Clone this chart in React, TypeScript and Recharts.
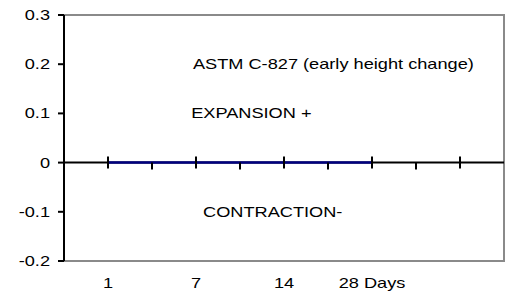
import React from 'react';
import { ComposedChart, Line, Scatter, XAxis, YAxis, ReferenceLine } from 'recharts';

// days on the category axis (slot positions) and their labels
const dayPos = [1, 3, 5, 7];
const dayLabels = ['1', '7', '14', '28 Days'];
const heightChange = [0, 0, 0, 0];

const yTicks = [-0.2, -0.1, 0, 0.1, 0.2, 0.3];
const tickPos = [1, 2, 3, 4, 5, 6, 7, 8, 9];
const majorPos = [1, 3, 5, 7, 9];

const noteText = ['ASTM C-827 (early height change)', 'EXPANSION +', 'CONTRACTION-'];
const noteX = [2.93, 2.89, 3.16];
const noteY = [0.2, 0.1, -0.1];

// corners of the plot frame (open on the left, where the y axis is)
const frameX = [0, 10, 10, 0];
const frameY = [0.3, 0.3, -0.2, -0.2];
const axisX = [0, 0];
const axisY = [0.3, -0.2];

const FONT = '"Liberation Sans", Arial, sans-serif';
const SX = 1.3; // the original text is drawn wide

const lineData = dayPos.map((x, i) => ({ x, y: heightChange[i] }));
const tickData = tickPos.map(x => ({ x, y: 0, major: majorPos.includes(x) }));
const noteData = noteText.map((t, i) => ({ x: noteX[i], y: noteY[i], text: t }));
const frameData = frameX.map((x, i) => ({ x, y: frameY[i] }));
const axisData = axisX.map((x, i) => ({ x, y: axisY[i] }));

function WideText({ x, y, anchor, children }: any) {
  return (
    <text
      transform={`translate(${x},${y}) scale(${SX},1)`}
      textAnchor={anchor}
      fontFamily={FONT}
      fontSize={14}
      fill="#000"
    >
      {children}
    </text>
  );
}

const YTick = (p: any) => (
  <WideText x={p.x} y={p.y + 5} anchor="end">{String(p.payload.value)}</WideText>
);

const XTick = (p: any) => {
  const i = dayPos.indexOf(p.payload.value);
  return <WideText x={p.x} y={p.y + 5} anchor="middle">{dayLabels[i]}</WideText>;
};

const TickMark = (p: any) => {
  const { cx, cy, payload } = p;
  return payload.major
    ? <line x1={cx} x2={cx} y1={cy - 6} y2={cy + 6} stroke="#000" strokeWidth={2} />
    : <line x1={cx} x2={cx} y1={cy} y2={cy + 7} stroke="#000" strokeWidth={2} />;
};

const Note = (p: any) => (
  <WideText x={p.cx} y={p.cy + 5} anchor="start">{p.payload.text}</WideText>
);

export default function App() {
  return (
    <div style={{ position: 'absolute', left: 0, top: 0, background: '#fff' }}>
      <ComposedChart width={509} height={295} margin={{ top: 15, right: 5, bottom: 0, left: 0 }}>
        <XAxis
          dataKey="x"
          type="number"
          domain={[0, 10]}
          ticks={dayPos}
          interval={0}
          height={34}
          tickSize={0}
          tickMargin={22}
          tickLine={false}
          axisLine={false}
          tick={<XTick />}
        />
        <YAxis
          type="number"
          domain={[-0.2, 0.3]}
          ticks={yTicks}
          interval={0}
          width={64}
          tickSize={6}
          tickMargin={8}
          tickLine={{ stroke: '#000', strokeWidth: 2 }}
          axisLine={{ stroke: '#000', strokeWidth: 2 }}
          tick={<YTick />}
        />
        <Line data={frameData} dataKey="y" type="linear" stroke="#8a8a8a" strokeWidth={2}
          dot={false} isAnimationActive={false} />
        <Line data={axisData} dataKey="y" type="linear" stroke="#000" strokeWidth={2}
          dot={false} isAnimationActive={false} />
        <ReferenceLine y={0} stroke="#000" strokeWidth={2} />
        <Line data={lineData} dataKey="y" stroke="#000080" strokeWidth={2.5} dot={false} isAnimationActive={false} />
        <Scatter data={tickData} dataKey="y" shape={<TickMark />} isAnimationActive={false} />
        <Scatter data={noteData} dataKey="y" shape={<Note />} isAnimationActive={false} />
      </ComposedChart>
    </div>
  );
}
